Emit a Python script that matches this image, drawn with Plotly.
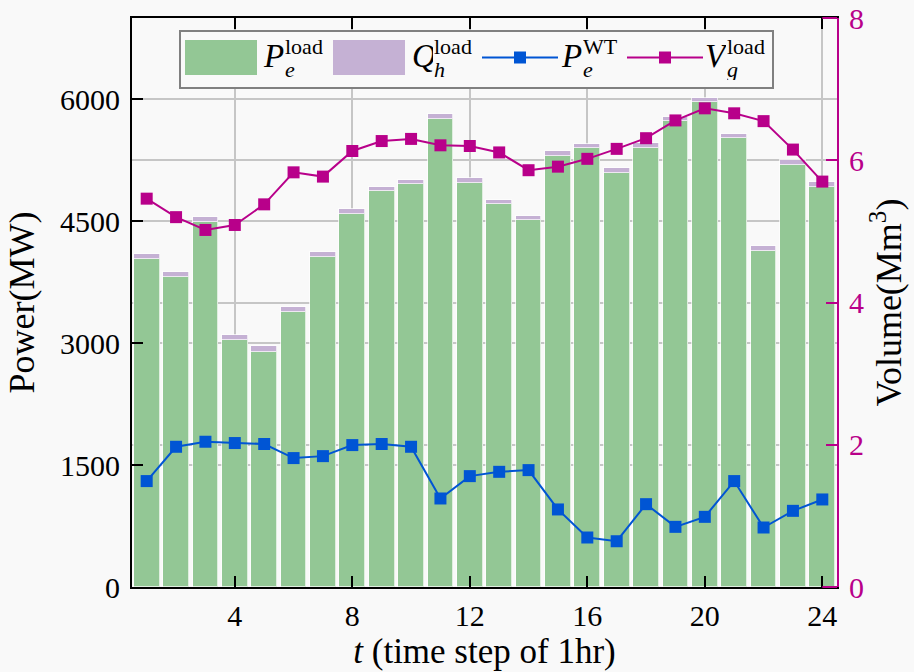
import plotly.graph_objects as go

# ---------------- data ----------------
t = list(range(1, 25))
p_load = [4035, 3813, 4486, 3041, 2896, 3386, 4064, 4594, 4873, 4955, 5752, 4972,
          4717, 4516, 5300, 5395, 5099, 5403, 5731, 5965, 5518, 4137, 5194, 4923]
q_load = [65, 62, 62, 61, 67, 61, 61, 61, 53, 58, 65, 57,
          49, 53, 58, 58, 58, 62, 55, 46, 58, 62, 65, 56]
p_wt = [1303, 1725, 1787, 1771, 1759, 1586, 1610, 1746, 1759, 1725, 1089, 1364,
        1417, 1438, 954, 609, 563, 1019, 740, 863, 1303, 732, 937, 1077]
v_load = [5.46, 5.20, 5.02, 5.09, 5.38, 5.83, 5.77, 6.13, 6.27, 6.30, 6.21, 6.20,
          6.11, 5.86, 5.91, 6.02, 6.16, 6.31, 6.56, 6.73, 6.66, 6.55, 6.15, 5.70]
x_ticks = [4, 8, 12, 16, 20, 24]
y1_ticks = [0, 1500, 3000, 4500, 6000]
y2_ticks = [0, 2, 4, 6, 8]

# ---------------- style ----------------
GREEN = "#93c795"
PURPLE = "#c5b1d4"
BLUE = "#0055d4"
MAG = "#b8008a"
GRID = "#c6c6c6"
BG = "#f9f9f9"
FONT = "Liberation Serif"

W, H = 914, 672
ML, MR, MT, MB = 132, 77, 18, 85
PW, PH = W - ML - MR, H - MT - MB


def px(x):
    return (x - ML) / PW


def py(y):
    return (H - MB - y) / PH


fig = go.Figure()
fig.add_trace(go.Bar(x=t, y=p_load, marker=dict(color=GREEN, line=dict(color="rgba(255,255,255,0.7)", width=1)),
                     width=0.88, name="P_e^load", showlegend=False))
fig.add_trace(go.Bar(x=t, y=q_load, marker=dict(color=PURPLE, line=dict(color="rgba(255,255,255,0.7)", width=1)),
                     width=0.88, name="Q_h^load", showlegend=False))
fig.add_trace(go.Scatter(x=t, y=p_wt, mode="lines+markers", line=dict(color=BLUE, width=2),
                         marker=dict(symbol="square", size=12, color=BLUE), name="P_e^WT", showlegend=False))
fig.add_trace(go.Scatter(x=t, y=v_load, yaxis="y2", mode="lines+markers", line=dict(color=MAG, width=2),
                         marker=dict(symbol="square", size=12, color=MAG), name="V_g^load", showlegend=False))

axfont = dict(family=FONT, size=30, color="black")
fig.update_layout(
    width=W, height=H,
    margin=dict(l=ML, r=MR, t=MT, b=MB, autoexpand=False),
    paper_bgcolor=BG, plot_bgcolor=BG,
    barmode="stack", bargap=0,
    font=dict(family=FONT, color="black"),
    xaxis=dict(range=[0.5, 24.5], tickvals=x_ticks, ticks="inside", ticklen=11, tickwidth=2,
               tickcolor="black", showline=True, linecolor="black", linewidth=2, mirror="ticks",
               showgrid=True, gridcolor=GRID, gridwidth=1.5, zeroline=False, automargin=False,
               tickfont=axfont, ticklabelstandoff=1,
               title=dict(text="<i>t</i> (time step of 1hr)", font=dict(family=FONT, size=35), standoff=6)),
    yaxis=dict(range=[0, 7000], tickvals=y1_ticks, ticks="inside", ticklen=11, tickwidth=2,
               tickcolor="black", showline=True, linecolor="black", linewidth=2,
               showgrid=True, gridcolor=GRID, gridwidth=1.5, zeroline=False, automargin=False,
               tickfont=axfont, ticklabelstandoff=4,
               title=dict(text="Power(MW)", font=dict(family=FONT, size=36), standoff=14)),
    yaxis2=dict(range=[0, 8], tickvals=y2_ticks, overlaying="y", side="right", ticks="inside",
                ticklen=11, tickwidth=2, tickcolor=MAG, showline=True, linecolor=MAG, linewidth=2,
                showgrid=True, gridcolor=GRID, gridwidth=1.5, zeroline=False, automargin=False,
                tickfont=dict(family=FONT, size=30, color=MAG), ticklabelstandoff=4,
                title=dict(text="Volume(Mm<sup>3</sup>)", font=dict(family=FONT, size=36, color="black"), standoff=4)),
)

shapes = []
# magenta top/bottom segments near the right axis
for yy in (0, 1):
    shapes.append(dict(type="line", xref="x", yref="paper", x0=24, x1=24.5, y0=yy, y1=yy,
                       line=dict(color=MAG, width=2), layer="above"))

# manual legend
shapes.append(dict(type="rect", xref="paper", yref="paper", x0=px(180), x1=px(773), y0=py(88), y1=py(31),
                   line=dict(color="#808080", width=2), fillcolor=BG, layer="above"))
shapes.append(dict(type="rect", xref="paper", yref="paper", x0=px(185), x1=px(257), y0=py(75), y1=py(40),
                   line=dict(width=0), fillcolor=GREEN, layer="above"))
shapes.append(dict(type="rect", xref="paper", yref="paper", x0=px(333), x1=px(405), y0=py(75), y1=py(40),
                   line=dict(width=0), fillcolor=PURPLE, layer="above"))
for (xa, xb, col) in ((482, 558, BLUE), (627, 703, MAG)):
    shapes.append(dict(type="line", xref="paper", yref="paper", x0=px(xa), x1=px(xb), y0=py(57.5), y1=py(57.5),
                       line=dict(color=col, width=2), layer="above"))
    xc = (xa + xb) / 2
    shapes.append(dict(type="rect", xref="paper", yref="paper", x0=px(xc - 6), x1=px(xc + 6),
                       y0=py(63.5), y1=py(51.5), line=dict(width=0), fillcolor=col, layer="above"))
fig.update_layout(shapes=shapes)

ann = []


def txt(s, x, y, size, h, w):
    ann.append(dict(text=s, xref="paper", yref="paper", x=px(x), y=py(y), xanchor="left", yanchor="middle",
                    showarrow=False, height=h, width=w, align="left", borderpad=0,
                    font=dict(family=FONT, size=size, color="black")))


# (base letter, superscript, subscript, x of base)
legend_items = [("<i>P</i>", "load", "<i>e</i>", 262),
                ("<i>Q</i>", "load", "<i>h</i>", 411),
                ("<i>P</i>", "WT", "<i>e</i>", 560),
                ("<i>V</i>", "load", "<i>g</i>", 704)]
for base, sup, sub, x0 in legend_items:
    txt(base, x0, 56, 33, 34, 21)
    txt(sup, x0 + 22, 46, 22, 20, 44)
    txt(sub, x0 + 22, 69, 22, 22, 14)
fig.update_layout(annotations=ann)

fig.write_html("out.html", config={"displayModeBar": False},
               post_script="document.body.style.margin='0px';")
